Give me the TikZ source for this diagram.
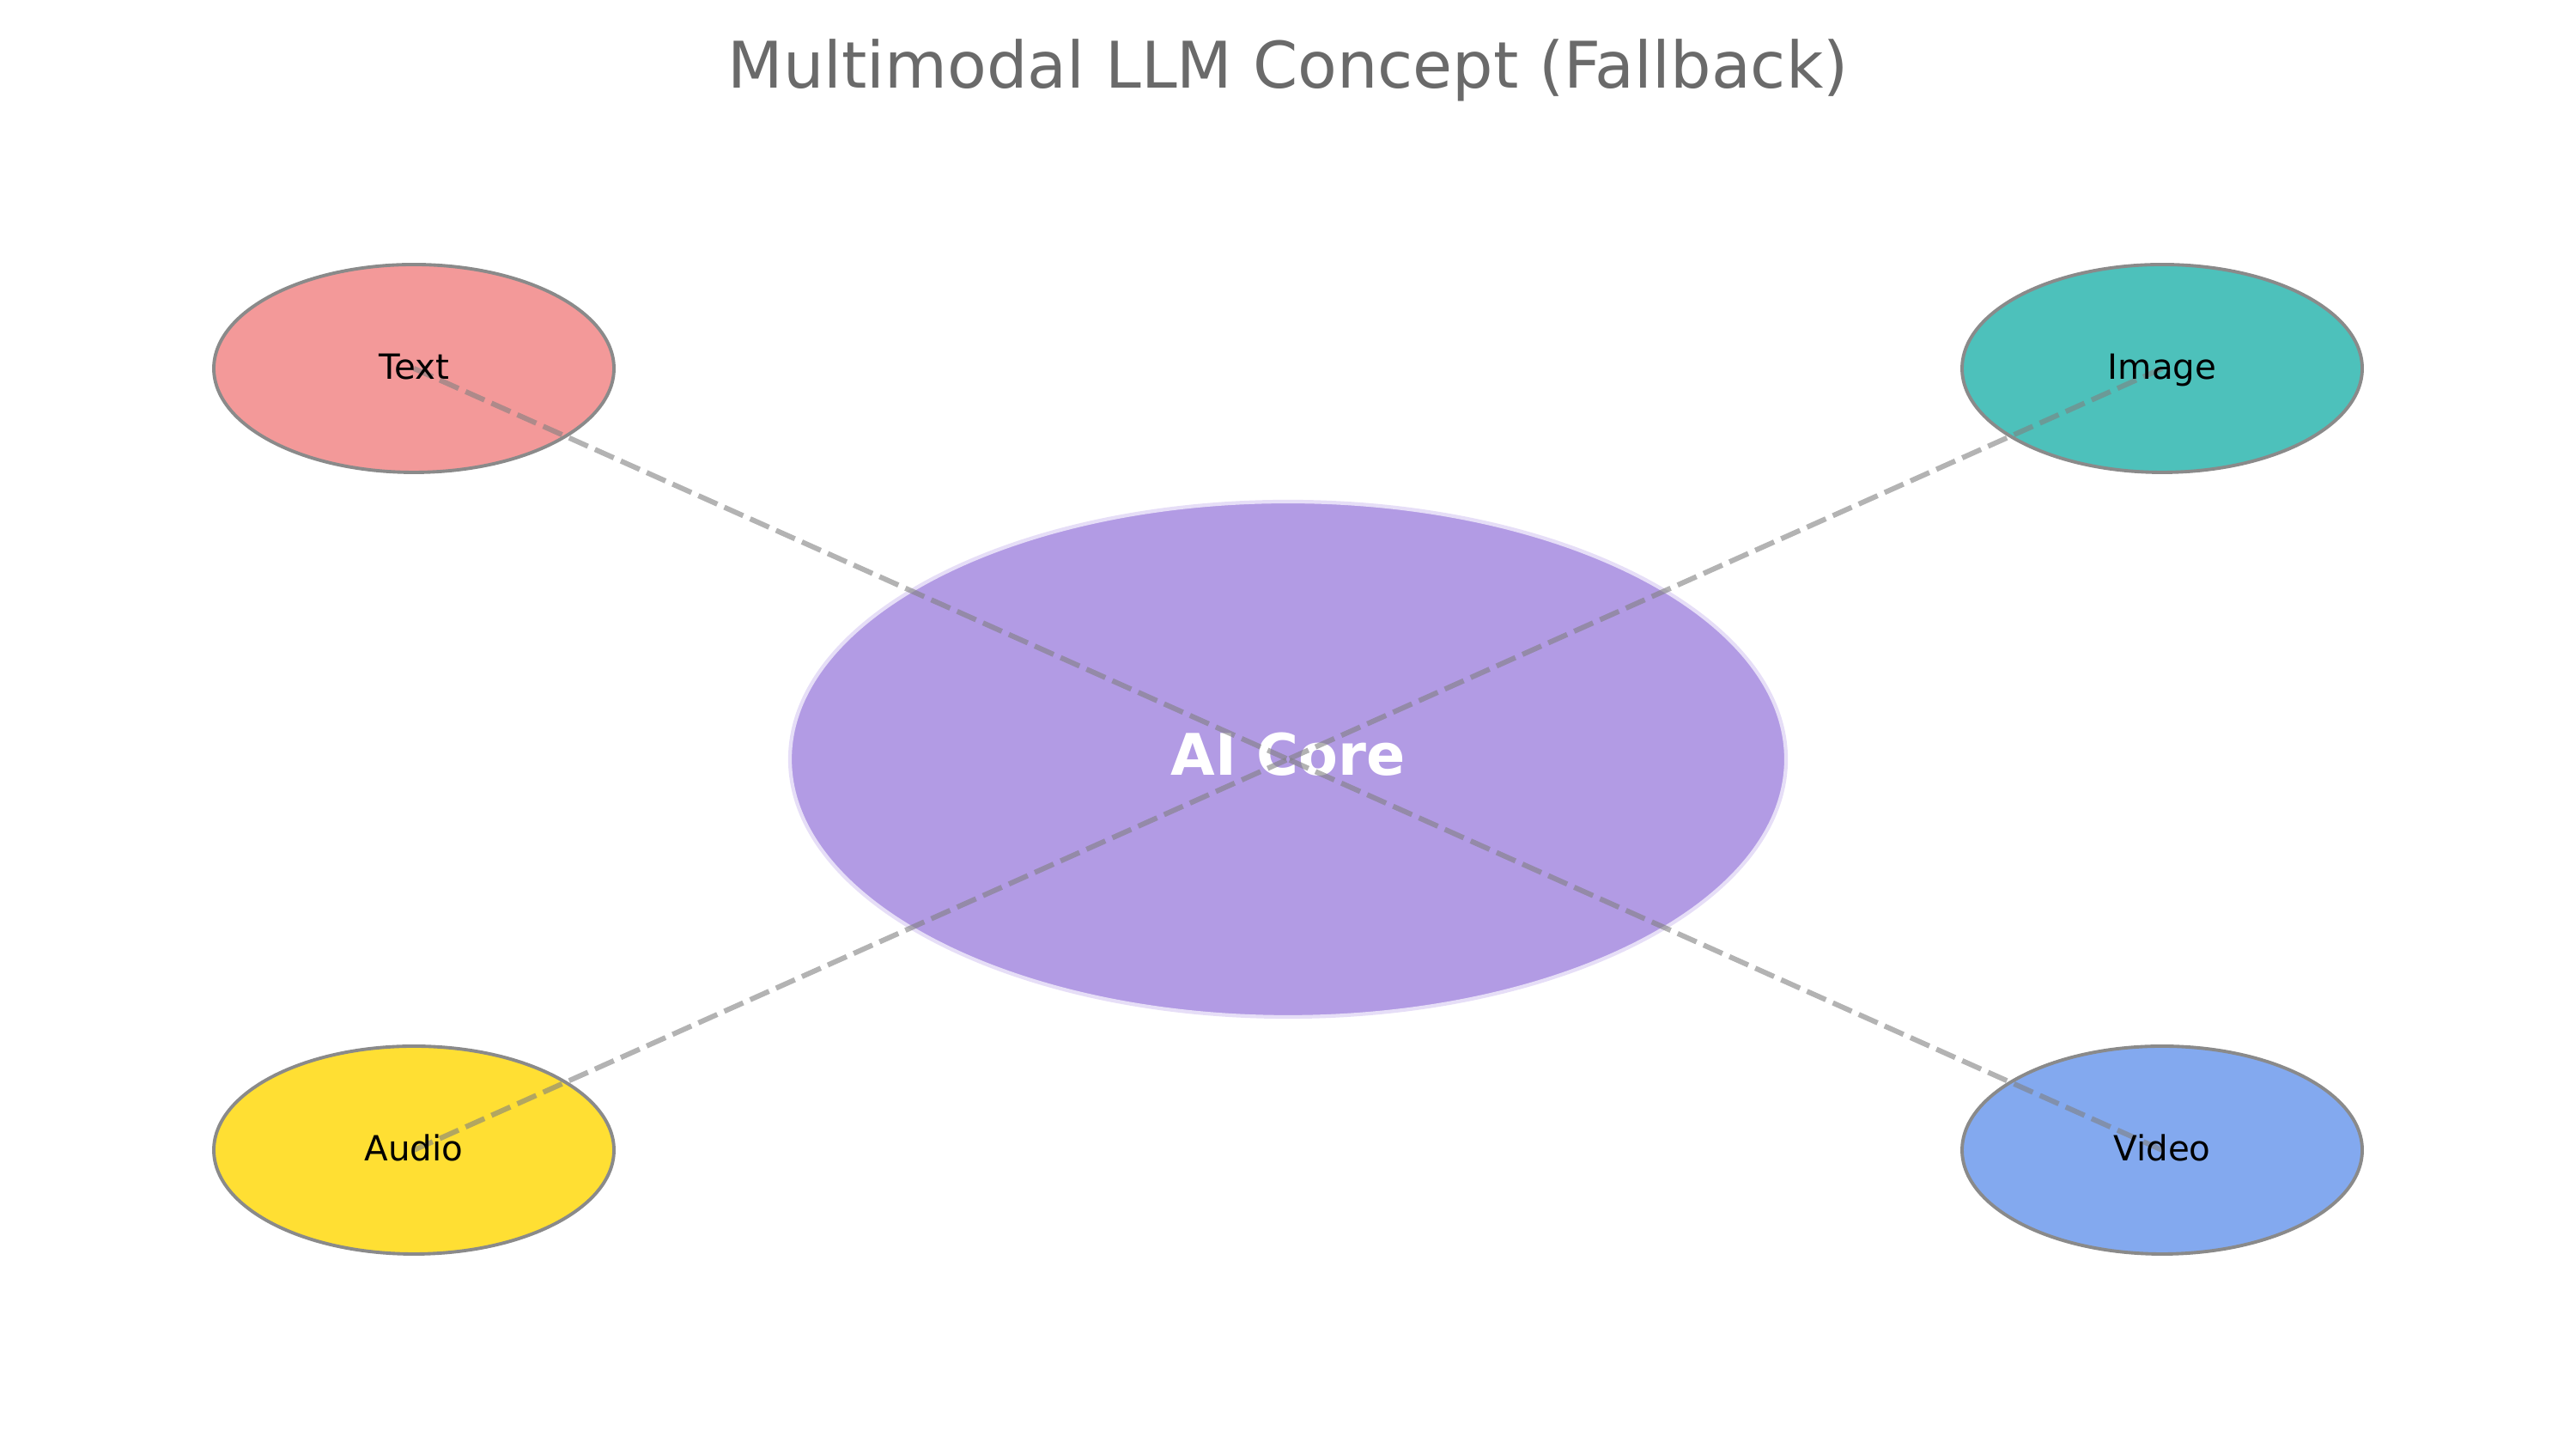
\documentclass[tikz,border=0pt]{standalone}
\usepackage{fontspec}
\setmainfont{DejaVu Sans}
\usetikzlibrary{shapes.geometric}

\definecolor{textRed}{HTML}{F39999}
\definecolor{imageTeal}{HTML}{4DC1BB}
\definecolor{audioGold}{HTML}{FFDF33}
\definecolor{videoBlue}{HTML}{83A9EF}
\definecolor{corePurple}{HTML}{B29BE4}
\definecolor{coreEdge}{HTML}{E6DEF7}
\definecolor{edgeGray}{HTML}{8A8A8A}
\definecolor{titleGray}{HTML}{6A6A6A}

\tikzset{
	modality/.style={draw=edgeGray, line width=1.1pt, ellipse, minimum width=4.66cm,
	minimum height=2.42cm, inner sep=0pt},
	modLabel/.style={font=\fontsize{11.5}{14}\selectfont, text=black, inner sep=0pt,
	anchor=base, yshift=-0.125cm},
	link/.style={draw=gray, opacity=0.6, line width=1.7pt, dash pattern=on 0.24cm off 0.09cm}
}

\begin{document}
\begin{tikzpicture}
			
			\useasboundingbox (0,0) rectangle (30,16.87);
			
			%Title
			\node (title) at (15,15.84) [anchor=base, text=titleGray, inner sep=0pt,
			font=\fontsize{21.3}{25}\selectfont]{Multimodal LLM Concept (Fallback)};
			
			%Central core
			\node (core) at (15,8.03) [draw=coreEdge, line width=1.2pt, fill=corePurple, ellipse,
			minimum width=11.6cm, minimum height=6.0cm, inner sep=0pt]{};
			
			%Modalities
			\node (text) at (4.82,12.58) [modality, fill=textRed]{};
			\node (image) at (25.18,12.58) [modality, fill=imageTeal]{};
			\node (audio) at (4.82,3.48) [modality, fill=audioGold]{};
			\node (video) at (25.18,3.48) [modality, fill=videoBlue]{};
			
			%Core label
			\node (coreLabel) at (core.center) [anchor=base, yshift=-0.19cm, inner sep=0pt,
			text=white, font=\fontsize{19}{23}\selectfont\bfseries]{AI Core};
			
			%Links among blocks
			\draw[link] (text.center) -- (core.center);
			\draw[link] (image.center) -- (core.center);
			\draw[link] (audio.center) -- (core.center);
			\draw[link] (video.center) -- (core.center);
			
			%Modality labels
			\node (textLabel) at (text.center) [modLabel]{Text};
			\node (imageLabel) at (image.center) [modLabel]{Image};
			\node (audioLabel) at (audio.center) [modLabel]{Audio};
			\node (videoLabel) at (video.center) [modLabel]{Video};
			
\end{tikzpicture}
\end{document}
